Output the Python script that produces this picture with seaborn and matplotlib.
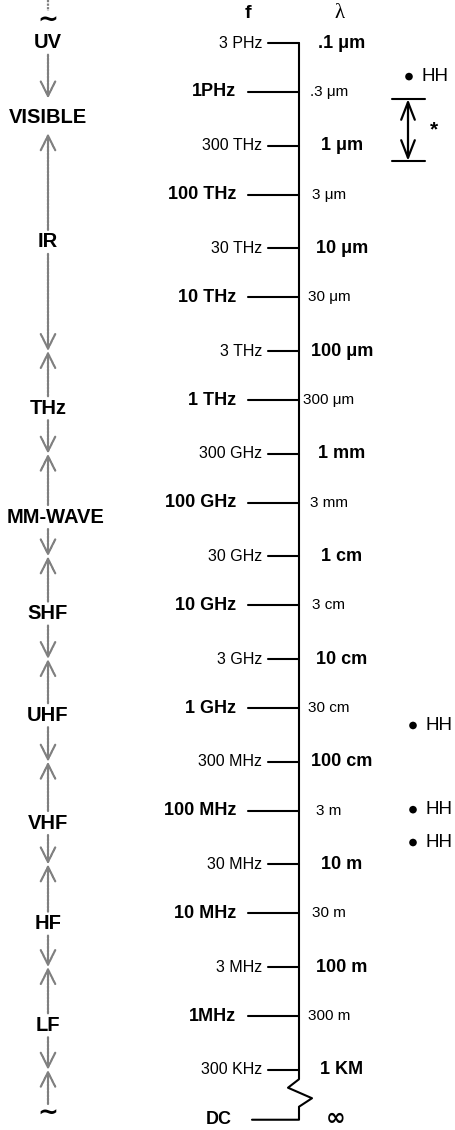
import numpy as np
import pandas as pd
import matplotlib
matplotlib.use("Agg")
import matplotlib.pyplot as plt
import seaborn as sns

# frequency ticks on the spine (Hz) with their labels
freq_hz = [3e15, 1e15, 3e14, 1e14, 3e13, 1e13, 3e12, 1e12, 3e11, 1e11, 3e10,
           1e10, 3e9, 1e9, 3e8, 1e8, 3e7, 1e7, 3e6, 1e6, 3e5]
freq_labels = ["3 PHz", "1PHz", "300 THz", "100 THz", "30 THz", "10 THz", "3 THz",
               "1 THz", "300 GHz", "100 GHz", "30 GHz", "10 GHz", "3 GHz", "1 GHz",
               "300 MHz", "100 MHz", "30 MHz", "10 MHz", "3 MHz", "1MHz", "300 KHz"]
wave_labels = [".1 \u03bcm", ".3 \u03bcm", "1 \u03bcm", "3 \u03bcm", "10 \u03bcm",
               "30 \u03bcm", "100 \u03bcm", "300 \u03bcm", "1 mm", "3 mm", "1 cm",
               "3 cm", "10 cm", "30 cm", "100 cm", "3 m", "10 m", "30 m", "100 m",
               "300 m", "1 KM"]
dc_logf = 4.99  # DC sits just under the break

# band names down the left side, placed at log10(f)
bands = ["UV", "VISIBLE", "IR", "THz", "MM-WAVE", "SHF", "UHF", "VHF", "HF", "LF"]
band_logf = [15.48, 14.75, 13.54, 11.92, 10.86, 9.92, 8.93, 7.88, 6.90, 5.91]
# edge below each band (None = arrows point at the VISIBLE label instead)
band_edges = [None, None, 3e12, 3e11, 3e10, 3e9, 3e8, 3e7, 3e6, 3e5]

# "HH" marks and the starred range
hh_logf = [15.15, 8.83, 8.01, 7.69]
star_logf = [14.93, 14.33]

sns.set_theme(style="white")
plt.rcParams["font.family"] = ["Liberation Sans", "DejaVu Sans"]
plt.rcParams["text.color"] = "black"

fig = plt.figure(figsize=(4.56, 11.30), dpi=100)
ax = fig.add_axes([0, 0, 1, 1])
ax.set_xlim(0, 456)
ax.set_ylim(4.890, 15.896)
ax.axis("off")
px = (15.896 - 4.890) / 1130  # one pixel in log units


def at(p):
    # pixel row from the top -> log units
    return 15.896 - p * px


spine_x = 299
logf = np.log10(freq_hz)
mant = np.round(np.array(freq_hz) / 10 ** np.floor(logf))

# spine with the break above DC
y300k = logf[-1]
gap = y300k - dc_logf
path = pd.DataFrame({
    "x": [spine_x, spine_x, spine_x - 11, spine_x + 13, spine_x, spine_x, 252],
    "y": [logf[0], y300k - 0.19 * gap, y300k - 0.36 * gap, y300k - 0.57 * gap,
          y300k - 0.74 * gap, dc_logf, dc_logf],
})
sns.lineplot(data=path, x="x", y="y", sort=False, estimator=None, color="black",
             lw=1.5, ax=ax)

for y, fl, wl, m in zip(logf, freq_labels, wave_labels, mant):
    big_f = m == 1
    x0 = 248 if big_f else 268
    ax.plot([x0, spine_x], [y, y], color="black", lw=1.5)
    ax.text(x0 - (12 if big_f else 6), y, fl, ha="right", va="center",
            fontsize=13 if big_f else 11.5, fontweight="bold" if big_f else "normal")
    ax.text(342 if not big_f else 329, y, wl, ha="center", va="center",
            fontsize=13 if not big_f else 11,
            fontweight="bold" if not big_f else "normal")

ax.text(252 - 20, dc_logf, "DC", ha="right", va="center", fontsize=13, fontweight="bold")
ax.text(336, at(1125), "\u221e", ha="center", va="baseline", fontsize=17,
        fontweight="bold", family=["DejaVu Sans"])

# headers
ax.text(248, at(14), "f", ha="center", va="center", fontsize=14, fontweight="bold")
ax.text(340, at(13), "\u03bb", ha="center", va="center", fontsize=15,
        family=["Liberation Serif"])

# band labels and dotted arrows
bx = 48
grey = "#808080"
dots = (0, (1, 0.6))
arrow_kw = dict(arrowstyle="->,head_length=0.8,head_width=0.4", color=grey, lw=1.6,
                linestyle=dots, mutation_scale=13, shrinkA=0, shrinkB=0)
half = 12 * px
for name, y in zip(bands, band_logf):
    ax.text(bx + (8 if name == "MM-WAVE" else 0), y, name, ha="center", va="center",
            fontsize=14.5, fontweight="bold")

ax.text(bx, at(21), "\u223c", ha="center", va="center", fontsize=18, fontweight="bold",
        family=["DejaVu Sans"])
ax.text(bx, at(1114), "\u223c", ha="center", va="center", fontsize=18, fontweight="bold",
        family=["DejaVu Sans"])
ax.plot([bx, bx], [at(0), at(11)], color=grey, lw=1.6, ls=dots)

# UV points down to VISIBLE, IR points up to VISIBLE
ax.annotate("", xy=(bx, band_logf[1] + 1.6 * half), xytext=(bx, band_logf[0] - half),
            arrowprops=arrow_kw)
ax.annotate("", xy=(bx, band_logf[1] - 1.3 * half), xytext=(bx, band_logf[2] + half),
            arrowprops=arrow_kw)
for i, edge_hz in enumerate(band_edges):
    if edge_hz is None:
        continue
    edge = np.log10(edge_hz)
    ax.annotate("", xy=(bx, edge), xytext=(bx, band_logf[i] - half), arrowprops=arrow_kw)
    lower = band_logf[i + 1] + half if i + 1 < len(bands) else at(1104)
    ax.annotate("", xy=(bx, edge), xytext=(bx, lower), arrowprops=arrow_kw)

# HH marks
hh = pd.DataFrame({"x": [409] + [413] * (len(hh_logf) - 1), "y": hh_logf})
sns.scatterplot(data=hh, x="x", y="y", color="black", s=30, edgecolor="none", ax=ax)
for x, y in zip(hh["x"], hh["y"]):
    ax.text(x + 13, y, "HH", ha="left", va="center", fontsize=13.5)

# starred range
for y in star_logf:
    ax.plot([392, 425], [y, y], color="black", lw=1.5)
ax.annotate("", xy=(408, star_logf[0]), xytext=(408, star_logf[1]),
            arrowprops=dict(arrowstyle="<->,head_length=0.9,head_width=0.35",
                            color="black", lw=1.6, mutation_scale=14,
                            shrinkA=0, shrinkB=0))
ax.text(434, np.mean(star_logf), "*", ha="center", va="center", fontsize=15,
        fontweight="bold")

fig.savefig("out.png", dpi=100)
